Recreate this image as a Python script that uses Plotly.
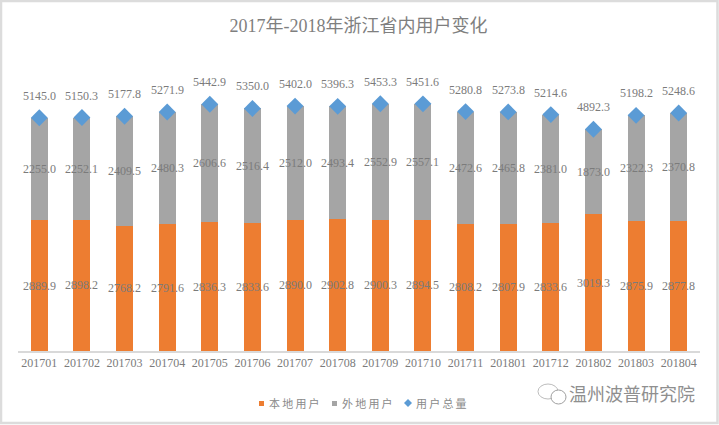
import plotly.graph_objects as go

months = ["201701","201702","201703","201704","201705","201706","201707","201708",
          "201709","201710","201711","201801","201712","201802","201803","201804"]
local_users = [2889.9,2898.2,2768.2,2791.6,2836.3,2833.6,2890.0,2902.8,
               2900.3,2894.5,2808.2,2807.9,2833.6,3019.3,2875.9,2877.8]
other_users = [2255.0,2252.1,2409.5,2480.3,2606.6,2516.4,2512.0,2493.4,
               2552.9,2557.1,2472.6,2465.8,2381.0,1873.0,2322.3,2370.8]
total_users = [5145.0,5150.3,5177.8,5271.9,5442.9,5350.0,5402.0,5396.3,
               5453.3,5451.6,5280.8,5273.8,5214.6,4892.3,5198.2,5248.6]
legend_names = ["本地用户", "外地用户", "用户总量"]

W, H = 719, 425
L, R, T, B = 18, 19, 79, 74
PW, PH = W - L - R, H - T - B
SERIF = "'Liberation Serif','Noto Sans CJK SC',serif"
SANS = "'Noto Sans CJK SC',sans-serif"
TXT = "#7b7b7b"
ORANGE, GRAY, BLUE = "#ED7D31", "#A5A5A5", "#5B9BD5"

def px(x):
    return (x - L) / PW

def py(y):
    return (H - B - y) / PH

fig = go.Figure()
fig.add_bar(x=months, y=local_users, name=legend_names[0], marker=dict(color=ORANGE, line_width=0), width=0.4)
fig.add_bar(x=months, y=other_users, name=legend_names[1], marker=dict(color=GRAY, line_width=0), width=0.4)
fig.add_scatter(x=months, y=total_users, name=legend_names[2], mode="markers",
                marker=dict(symbol="diamond", size=13, color=BLUE))

ann = []
for i, (a, b, t) in enumerate(zip(local_users, other_users, total_users)):
    for y, v, ys in ((a / 2, a, 0), (a + b / 2, b, 0), (t, t, 22)):
        ann.append(dict(x=i, y=y, text=f"{v:.1f}", showarrow=False, yshift=ys,
                        font=dict(family=SERIF, size=12, color=TXT)))

# hand-placed legend, tight like the original
for name, x in zip(legend_names, (267, 340, 414)):
    ann.append(dict(xref="paper", yref="paper", x=px(x), y=py(403), xanchor="left", yanchor="middle",
                    text="\u2009".join(name), showarrow=False,
                    font=dict(family=SANS, size=11, color="#8a8a8a")))

# watermark
ann.append(dict(xref="paper", yref="paper", x=px(697), y=py(393), xanchor="right", yanchor="middle",
                text="温州波普研究院", showarrow=False,
                font=dict(family=SANS, size=18, color="#8f8f8f")))

def paper_rect(kind, x0, x1, y0, y1, **kw):
    return dict(type=kind, xref="paper", yref="paper", x0=px(x0), x1=px(x1), y0=py(y1), y1=py(y0), **kw)

shapes = [
    paper_rect("rect", 1, 717.5, 1, 423, line=dict(color="#DCDCDC", width=2.5),
               fillcolor="rgba(0,0,0,0)", layer="below"),
    paper_rect("rect", 259, 264, 401, 406, line_width=0, fillcolor=ORANGE),
    paper_rect("rect", 332, 337, 401, 406, line_width=0, fillcolor=GRAY),
    dict(type="path", xref="paper", yref="paper",
         path=f"M {px(404)} {py(403)} L {px(408)} {py(399)} L {px(412)} {py(403)} L {px(408)} {py(407)} Z",
         line_width=0, fillcolor=BLUE),
    paper_rect("circle", 538, 558, 384, 399, line=dict(color="#BDBDBD", width=1)),
    paper_rect("circle", 551, 566, 390, 404, line=dict(color="#A0A0A0", width=1), fillcolor="white"),
]

fig.update_layout(
    width=W, height=H, autosize=False, barmode="stack", showlegend=False,
    margin=dict(l=L, r=R, t=T, b=B, pad=0),
    paper_bgcolor="white", plot_bgcolor="white",
    title=dict(text="2017年-2018年浙江省内用户变化", x=358.5/W, xanchor="center",
               y=1-26/H, yanchor="middle",
               font=dict(family=SERIF, size=18, color="#7f7f7f")),
    xaxis=dict(type="category", categoryorder="array", categoryarray=months, range=[-0.5, 15.5],
               showgrid=False, showline=True, linecolor="#D9D9D9", linewidth=1.5, ticks="",
               tickangle=0, tickfont=dict(family=SERIF, size=12, color=TXT)),
    yaxis=dict(range=[0, 6000], visible=False, showgrid=False),
    annotations=ann, shapes=shapes,
)
fig.write_html("out.html", post_script="document.body.style.margin='0';",
               config=dict(displayModeBar=False))
